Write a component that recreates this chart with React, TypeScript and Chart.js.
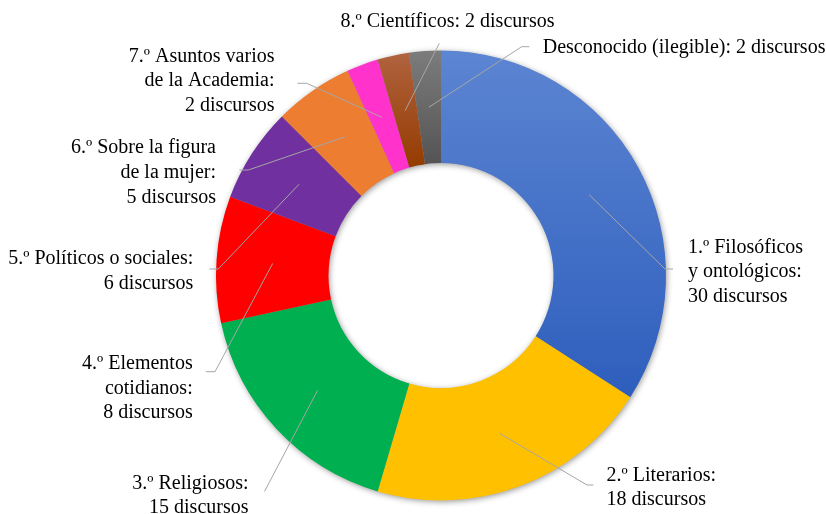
import React, { useEffect, useRef } from "react";
import { Chart, registerables } from "chart.js";

Chart.register(...registerables);

// ---- data ----
const categories = [
  "1.º Filosóficos\ny ontológicos",
  "2.º Literarios",
  "3.º Religiosos",
  "4.º Elementos\ncotidianos",
  "5.º Políticos o sociales",
  "6.º Sobre la figura\nde la mujer",
  "7.º Asuntos varios\nde la Academia",
  "8.º Científicos",
  "Desconocido (ilegible)",
];
const values = [30, 18, 15, 8, 6, 5, 2, 2, 2];
const unit = "discursos";
const valueOnSameLine = [false, false, false, false, false, false, false, true, true];

// ---- styles ----
const flatColors = ["#4472C4", "#FFC000", "#00B050", "#FF0000", "#7030A0", "#ED7D31", "#FF33CC", "#A0460C", "#666666"];
const gradientColors: (null | [string, string])[] = [
  ["#5C85D2", "#2E5EBD"],
  null,
  null,
  null,
  null,
  null,
  null,
  ["#B0633F", "#953B00"],
  ["#7C7C7C", "#545454"],
];

// label layout (canvas px): anchor x, first baseline y, alignment, leader bend + end
type LabelLayout = { x: number; y: number; align: CanvasTextAlign; bend: [number, number] | null; end: [number, number] };
const labelLayout: LabelLayout[] = [
  { x: 688, y: 252.5, align: "left", bend: [665, 269], end: [673, 269] },
  { x: 606.5, y: 480.5, align: "left", bend: [587, 485], end: [593.5, 485] },
  { x: 248.5, y: 488.5, align: "right", bend: null, end: [264.5, 491.5] },
  { x: 192.7, y: 368.8, align: "right", bend: [215, 371.7], end: [206, 371.7] },
  { x: 193.3, y: 263.8, align: "right", bend: [218.3, 269], end: [209.3, 269] },
  { x: 216, y: 153.3, align: "right", bend: [248.3, 170], end: [239.5, 170] },
  { x: 274.5, y: 61.7, align: "right", bend: [306.7, 83.3], end: [297.5, 83.3] },
  { x: 447.5, y: 26.7, align: "center", bend: null, end: [439.3, 43.3] },
  { x: 542.7, y: 53, align: "left", bend: [521.7, 46.7], end: [529.3, 46.7] },
];
const LINE_H = 24.7;
const FONT = '20px "Liberation Serif", "DejaVu Serif", serif';
const CUTOUT = 0.5;

function labelText(i: number): string[] {
  const sep = valueOnSameLine[i] ? " " : "\n";
  return (categories[i] + ":" + sep + values[i] + " " + unit).split("\n");
}

function sliceYExtent(i: number, cy: number, R: number, r: number): [number, number] {
  const total = values.reduce((a, b) => a + b, 0);
  let start = 0;
  for (let k = 0; k < i; k++) start += values[k];
  const a0 = (start / total) * Math.PI * 2;
  const a1 = ((start + values[i]) / total) * Math.PI * 2;
  const ys: number[] = [];
  for (const a of [a0, a1]) {
    ys.push(cy - R * Math.cos(a), cy - r * Math.cos(a));
  }
  if (a0 <= 0.0001) ys.push(cy - R);
  if (a0 <= Math.PI && a1 >= Math.PI) ys.push(cy + R);
  return [Math.min(...ys), Math.max(...ys)];
}

const shadowPlugin = {
  id: "ringShadow",
  beforeDatasetsDraw(chart: any) {
    const meta = chart.getDatasetMeta(0);
    const el = meta.data[0];
    if (!el) return;
    const { x, y, outerRadius, innerRadius } = el;
    const ctx = chart.ctx;
    ctx.save();
    ctx.shadowColor = "rgba(0,0,0,0.45)";
    ctx.shadowBlur = 6;
    ctx.shadowOffsetX = 1;
    ctx.shadowOffsetY = 1.5;
    ctx.beginPath();
    ctx.arc(x, y, outerRadius - 0.6, 0, Math.PI * 2);
    ctx.arc(x, y, innerRadius + 0.6, 0, Math.PI * 2, true);
    ctx.closePath();
    ctx.fillStyle = "#999";
    ctx.fill("evenodd");
    ctx.restore();
  },
};

const labelPlugin = {
  id: "outsideLabels",
  afterDatasetsDraw(chart: any) {
    const ctx = chart.ctx;
    const meta = chart.getDatasetMeta(0);
    ctx.save();
    meta.data.forEach((el: any, i: number) => {
      const L = labelLayout[i];
      const p = el.getCenterPoint();
      ctx.beginPath();
      ctx.moveTo(p.x, p.y);
      if (L.bend) ctx.lineTo(L.bend[0], L.bend[1]);
      ctx.lineTo(L.end[0], L.end[1]);
      ctx.strokeStyle = "#A6A6A6";
      ctx.lineWidth = 1;
      ctx.stroke();
    });
    ctx.font = FONT;
    ctx.fillStyle = "#000000";
    ctx.textBaseline = "alphabetic";
    meta.data.forEach((_el: any, i: number) => {
      const L = labelLayout[i];
      ctx.textAlign = L.align;
      labelText(i).forEach((line, j) => {
        ctx.fillText(line, L.x, L.y + j * LINE_H);
      });
    });
    ctx.restore();
  },
};

export default function App() {
  const ref = useRef<HTMLCanvasElement | null>(null);
  useEffect(() => {
    if (!ref.current) return;
    const chart = new Chart(ref.current, {
      type: "doughnut",
      data: {
        labels: categories.map((c) => c.replace("\n", " ")),
        datasets: [
          {
            data: values,
            borderWidth: 0,
            backgroundColor: (c: any) => {
              const i = c.dataIndex;
              if (i === undefined) return flatColors[0];
              const g = gradientColors[i];
              const ca = c.chart.chartArea;
              if (!g || !ca) return flatColors[i];
              const R = Math.min(ca.right - ca.left, ca.bottom - ca.top) / 2;
              const cy = (ca.top + ca.bottom) / 2;
              const [y0, y1] = sliceYExtent(i, cy, R, R * CUTOUT);
              const grad = c.chart.ctx.createLinearGradient(0, y0, 0, y1);
              grad.addColorStop(0, g[0]);
              grad.addColorStop(1, g[1]);
              return grad;
            },
          },
        ],
      },
      options: {
        responsive: false,
        animation: false,
        cutout: "50%",
        layout: { padding: { left: 216, right: 160, top: 50.5, bottom: 13.5 } },
        plugins: { legend: { display: false }, tooltip: { enabled: false } },
        events: [],
      },
      plugins: [shadowPlugin, labelPlugin],
    });
    let alive = true;
    if ((document as any).fonts && (document as any).fonts.load) {
      (document as any).fonts.load(FONT, "Filosóficos").then(() => {
        if (alive) chart.draw();
      });
    }
    return () => {
      alive = false;
      chart.destroy();
    };
  }, []);
  return (
    <div style={{ position: "absolute", left: 0, top: 0, width: 826, height: 514, background: "#fff", fontFamily: '"Liberation Serif", serif' }}>
      <canvas ref={ref} width={826} height={514} style={{ width: 826, height: 514, display: "block" }} />
    </div>
  );
}
